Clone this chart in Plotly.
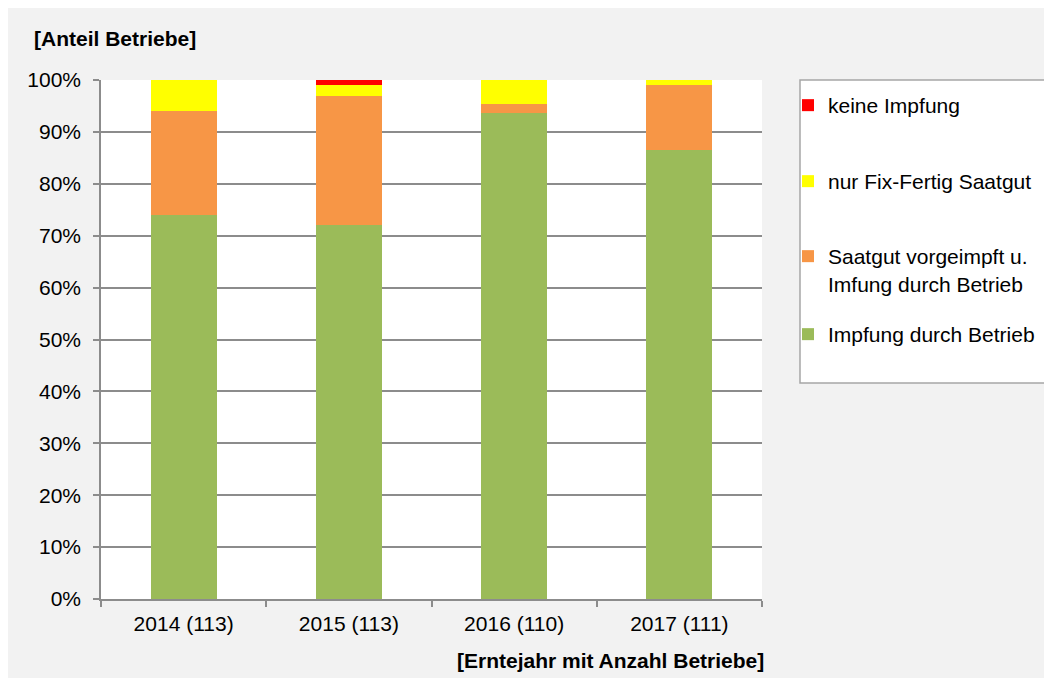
import plotly.graph_objects as go

categories = ["2014 (113)", "2015 (113)", "2016 (110)", "2017 (111)"]
impfung_betrieb = [74.0, 72.0, 93.7, 86.6]
vorgeimpft = [20.0, 25.0, 1.7, 12.5]
fix_fertig = [6.0, 2.0, 4.6, 0.9]
keine = [0.0, 1.0, 0.0, 0.0]

series_names = ["Impfung durch Betrieb",
                "Saatgut vorgeimpft u.<br>Imfung durch Betrieb",
                "nur Fix-Fertig Saatgut",
                "keine Impfung"]
series_values = [impfung_betrieb, vorgeimpft, fix_fertig, keine]
series_colors = ["#9BBB59", "#F79646", "#FFFF00", "#FF0000"]

FONT = "Arial, Liberation Sans, sans-serif"
OFF = 8  # page body margin
W, H = 1044, 670
# plot area in screen coordinates
SL, SR, ST, SB = 101, 762, 80, 599
L, R, T, B = SL - OFF, SR - OFF, ST - OFF, SB - OFF
pw, ph = R - L, B - T


def px(xs):
    return (xs - SL) / pw


def py(ys):
    return (SB - ys) / ph


# one legend per series (trace order), with screen y of the first text line centre
legend_ids = ["legend", "legend2", "legend3", "legend4"]
legend_text_y = {"legend": 335, "legend2": 257, "legend3": 182, "legend4": 106}

fig = go.Figure()
for name, vals, col, lid in zip(series_names, series_values, series_colors, legend_ids):
    fig.add_trace(go.Bar(
        x=categories, y=vals, name=name,
        marker=dict(color=col, line=dict(width=0)),
        legend=lid,
    ))

legend_layouts = {}
for lid in legend_ids:
    legend_layouts[lid] = dict(
        x=px(788), y=py(legend_text_y[lid] - 21), xanchor="left", yanchor="top",
        bgcolor="rgba(0,0,0,0)", borderwidth=0,
        font=dict(family=FONT, size=21, color="black"),
        valign="top",
    )

fig.update_layout(
    width=W, height=H,
    barmode="stack", bargap=0.6,
    margin=dict(l=L, r=W - R, t=T, b=H - B, pad=0),
    paper_bgcolor="#F2F2F2", plot_bgcolor="white",
    font=dict(family=FONT, size=21, color="black"),
    showlegend=True,
    **legend_layouts,
    xaxis=dict(
        showgrid=False, showline=True, linecolor="#8C8C8C", linewidth=1.5,
        ticks="outside", tickson="boundaries", ticklen=6, tickcolor="#8C8C8C",
        tickwidth=1.5, ticklabelstandoff=5,
        tickfont=dict(family=FONT, size=21, color="black"),
    ),
    yaxis=dict(
        range=[0, 100], dtick=10, ticksuffix="%",
        showgrid=True, gridcolor="#8C8C8C", gridwidth=1.5,
        showline=True, linecolor="#8C8C8C", linewidth=1.5,
        ticks="outside", ticklen=6, tickcolor="#8C8C8C", tickwidth=1.5,
        ticklabelstandoff=8, zeroline=False,
        tickfont=dict(family=FONT, size=21, color="black"),
    ),
    shapes=[
        dict(type="rect", xref="paper", yref="paper", layer="below",
             x0=px(800), x1=px(1049), y0=py(383), y1=py(80),
             fillcolor="white", line=dict(color="#A6A6A6", width=1.5)),
    ],
    annotations=[
        dict(text="<b>[Anteil Betriebe]</b>", xref="paper", yref="paper",
             x=px(32), y=py(39), xanchor="left", yanchor="middle",
             showarrow=False, font=dict(family=FONT, size=21, color="black")),
        dict(text="<b>[Erntejahr mit Anzahl Betriebe]</b>", xref="paper", yref="paper",
             x=px(766), y=py(660), xanchor="right", yanchor="middle",
             showarrow=False, font=dict(family=FONT, size=21, color="black")),
    ],
)

fig.write_html("out.html")
